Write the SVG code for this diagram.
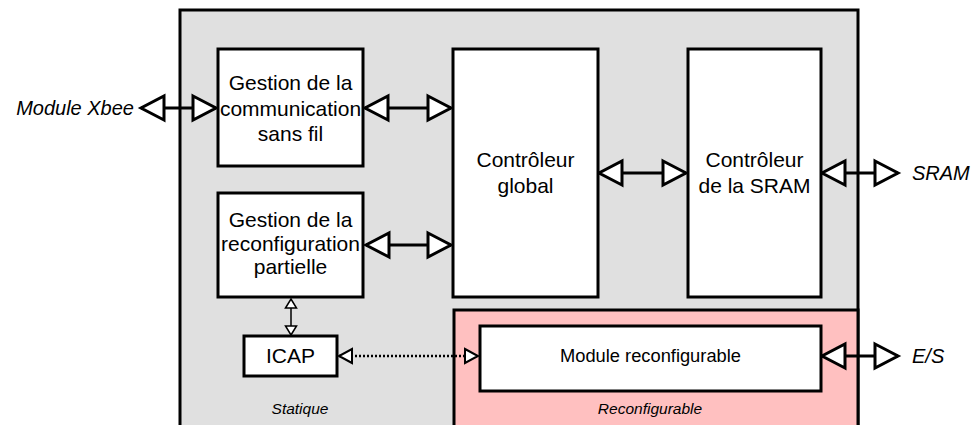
<svg xmlns="http://www.w3.org/2000/svg" width="976" height="425" viewBox="0 0 976 425">
<style>
  text { font-family: "Liberation Sans", Arial, sans-serif; fill: #000; }
  .lbl { font-size: 21px; text-anchor: middle; }
  .ext { font-size: 20px; font-style: italic; }
  .zone { font-size: 15.5px; font-style: italic; text-anchor: middle; }
  .box { fill: #fff; stroke: #000; stroke-width: 3; }
  .bus { stroke: #000; stroke-width: 3; fill: none; marker-start: url(#big); marker-end: url(#big); }
  .thin { stroke: #000; stroke-width: 1.5; fill: none; marker-start: url(#small); marker-end: url(#small); }
  .dot { stroke: #000; stroke-width: 2.5; stroke-dasharray: 2 2; fill: none; marker-start: url(#mid); marker-end: url(#mid); }
</style>
<defs>
  <marker id="big" markerUnits="userSpaceOnUse" viewBox="-30 -16 34 32" refX="0" refY="0" markerWidth="34" markerHeight="32" orient="auto-start-reverse" overflow="visible">
    <path d="M-23,-12 L0,0 L-23,12 Z" fill="#fff" stroke="#000" stroke-width="3"/>
  </marker>
  <marker id="small" markerUnits="userSpaceOnUse" viewBox="-14 -9 16 18" refX="0" refY="0" markerWidth="16" markerHeight="18" orient="auto-start-reverse" overflow="visible">
    <path d="M-9,-5.5 L0,0 L-9,5.5 Z" fill="#fff" stroke="#000" stroke-width="1.5"/>
  </marker>
  <marker id="mid" markerUnits="userSpaceOnUse" viewBox="-18 -10 20 20" refX="0" refY="0" markerWidth="20" markerHeight="20" orient="auto-start-reverse" overflow="visible">
    <path d="M-13,-7 L0,0 L-13,7 Z" fill="#fff" stroke="#000" stroke-width="2"/>
  </marker>
</defs>

<g id="zone-statique">
  <rect x="180" y="10" width="678" height="430" fill="#e0e0e0" stroke="#000" stroke-width="3"/>
  <text class="zone" x="300" y="414">Statique</text>
</g>
<g id="zone-reconfigurable">
  <rect x="454" y="310" width="404" height="130" fill="#ffc0c0" stroke="#000" stroke-width="3"/>
  <text class="zone" x="650" y="414">Reconfigurable</text>
</g>

<g id="connectors">
  <line class="bus" x1="141" y1="108" x2="216" y2="108"/>
  <line class="bus" x1="365" y1="108" x2="451" y2="108"/>
  <line class="bus" x1="599" y1="173" x2="686" y2="173"/>
  <line class="bus" x1="822" y1="173" x2="898" y2="173"/>
  <line class="bus" x1="366" y1="245" x2="451" y2="245"/>
  <line class="bus" x1="822" y1="356" x2="898" y2="356"/>
  <line class="thin" x1="291" y1="299" x2="291" y2="335"/>
  <line class="dot" x1="339" y1="356" x2="478" y2="356"/>
</g>

<g id="xbee"><text class="ext" x="134" y="115" text-anchor="end">Module Xbee</text></g>
<g id="sram"><text class="ext" x="912" y="180">SRAM</text></g>
<g id="es"><text class="ext" x="912" y="363">E/S</text></g>

<g id="gestion-comm">
  <rect class="box" x="218" y="49" width="145" height="117"/>
  <text class="lbl" x="290.5" y="90">Gestion de la</text>
  <text class="lbl" x="290.5" y="115.5">communication</text>
  <text class="lbl" x="290.5" y="141">sans fil</text>
</g>
<g id="gestion-reconf">
  <rect class="box" x="218" y="193" width="145" height="104"/>
  <text class="lbl" x="290.5" y="227">Gestion de la</text>
  <text class="lbl" x="290.5" y="250.5">reconfiguration</text>
  <text class="lbl" x="290.5" y="274">partielle</text>
</g>
<g id="controleur-global">
  <rect class="box" x="453" y="49" width="145" height="248"/>
  <text class="lbl" x="525.5" y="167">Contrôleur</text>
  <text class="lbl" x="525.5" y="193">global</text>
</g>
<g id="controleur-sram">
  <rect class="box" x="688" y="49" width="133" height="248"/>
  <text class="lbl" x="754.5" y="167">Contrôleur</text>
  <text class="lbl" x="754.5" y="193">de la SRAM</text>
</g>
<g id="icap">
  <rect class="box" x="244" y="336" width="93" height="40"/>
  <text class="lbl" x="290.5" y="363">ICAP</text>
</g>
<g id="module-reconf">
  <rect class="box" x="480" y="326" width="341" height="65"/>
  <text class="lbl" x="650.5" y="362" style="font-size:18.3px">Module reconfigurable</text>
</g>
</svg>
